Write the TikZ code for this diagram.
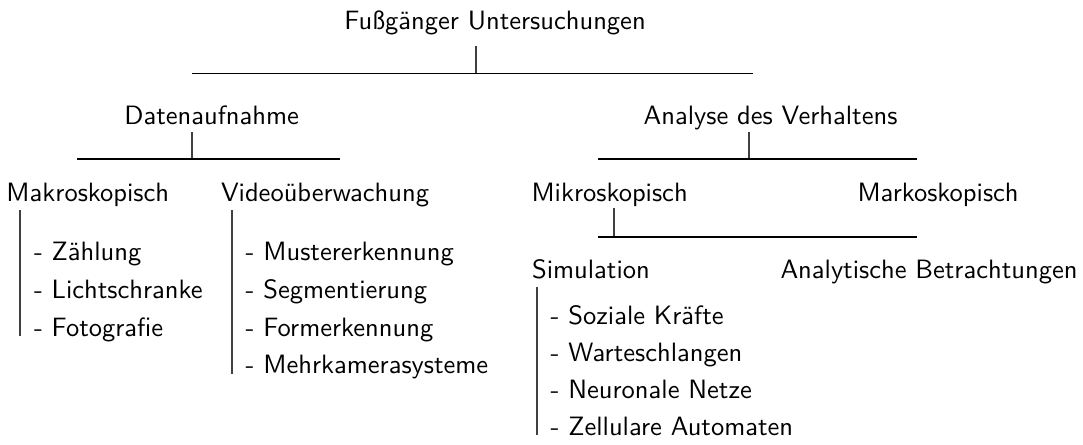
\documentclass[tikz,border=0pt]{standalone}
\begin{document}
\begin{tikzpicture}[
  x=0.394pt, y=-0.394pt,
  every node/.style={inner sep=0pt, outer sep=0pt, font=\fontsize{10.45pt}{12.5pt}\selectfont\sffamily},
  head/.style={anchor=base},
  lbl/.style={anchor=base west},
  bar/.style={line width=0.55pt},
  stem/.style={line width=0.45pt, black!75}
]
\useasboundingbox (0,0) rectangle (1083,445);

% root
\node[head] (root) at (495,29.3) {Fußgänger Untersuchungen};
\coordinate (rootS) at (476,46);
\coordinate (rootB) at (476,73.5);
\coordinate (rootL) at (192,73.5);
\coordinate (rootR) at (752.7,73.5);
\draw[stem] (rootS) -- (rootB);
\draw[bar] (rootL) -- (rootR);

% data acquisition branch
\node[head] (daten) at (211.7,125) {Datenaufnahme};
\coordinate (datenS) at (192,132);
\coordinate (datenB) at (192,159);
\coordinate (datenL) at (77,159);
\coordinate (datenR) at (340,159);
\draw[stem] (datenS) -- (datenB);
\draw[bar] (datenL) -- (datenR);

\node[lbl] (makro) at (6.5,201.7) {Makroskopisch};
\coordinate (makroT) at (20,210);
\coordinate (makroE) at (20,336.3);
\draw[stem] (makroT) -- (makroE);
\node[lbl] (zaehl) at (34,261) {- Zählung};
\node[lbl] (licht) at (34,298.7) {- Lichtschranke};
\node[lbl] (foto)  at (34,336.3) {- Fotografie};

\node[lbl] (video) at (221,201.7) {Videoüberwachung};
\coordinate (videoT) at (232,210);
\coordinate (videoE) at (232,374);
\draw[stem] (videoT) -- (videoE);
\node[lbl] (muster) at (245.7,261) {- Mustererkennung};
\node[lbl] (segm)   at (245.7,298.7) {- Segmentierung};
\node[lbl] (form)   at (245.7,336.3) {- Formerkennung};
\node[lbl] (mehr)   at (245.7,374) {- Mehrkamerasysteme};

% behaviour analysis branch
\node[head] (analyse) at (770.5,125) {Analyse des Verhaltens};
\coordinate (analyseS) at (749,132);
\coordinate (analyseB) at (749,159);
\coordinate (analyseL) at (598,159);
\coordinate (analyseR) at (917,159);
\draw[stem] (analyseS) -- (analyseB);
\draw[bar] (analyseL) -- (analyseR);

\node[lbl] (mikro) at (531.5,201.7) {Mikroskopisch};
\node[lbl] (marko) at (857.5,201.7) {Markoskopisch};
\coordinate (mikroS) at (614,208);
\coordinate (mikroB) at (614,237);
\coordinate (mikroL) at (598,237);
\coordinate (mikroR) at (917,237);
\draw[stem] (mikroS) -- (mikroB);
\draw[bar] (mikroL) -- (mikroR);

\node[lbl] (sim) at (532,279) {Simulation};
\node[lbl] (analyt) at (780.5,279) {Analytische Betrachtungen};
\coordinate (simT) at (537,287);
\coordinate (simE) at (537,435);
\draw[stem] (simT) -- (simE);
\node[lbl] (sozial) at (550.7,325) {- Soziale Kräfte};
\node[lbl] (warte)  at (550.7,361.7) {- Warteschlangen};
\node[lbl] (neuro)  at (550.7,398.3) {- Neuronale Netze};
\node[lbl] (zell)   at (550.7,435) {- Zellulare Automaten};
\end{tikzpicture}
\end{document}
